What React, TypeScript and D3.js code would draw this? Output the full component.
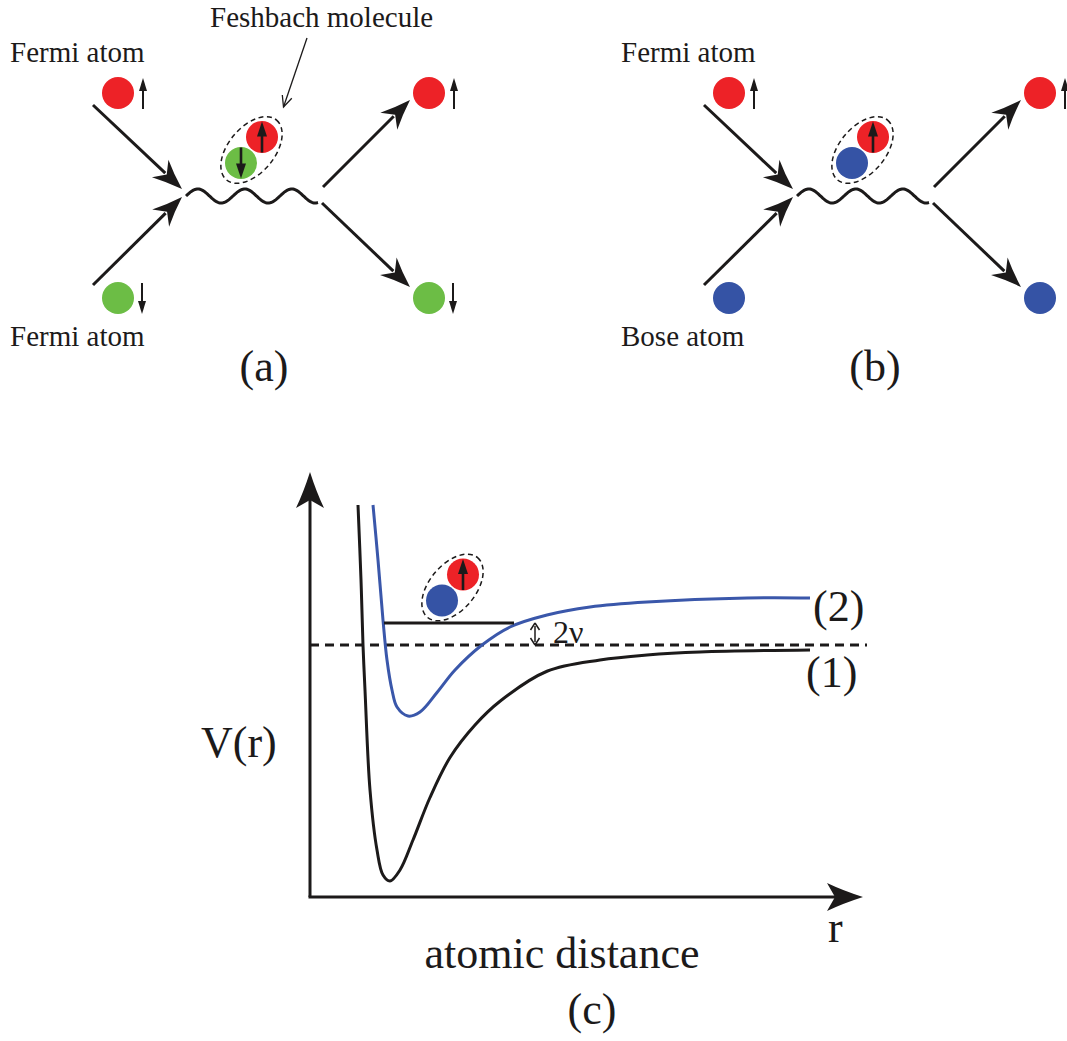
import React from 'react';
import * as d3 from 'd3';

const W = 1067;
const H = 1041;
const FONT = "Liberation Serif, DejaVu Serif, serif";
const BIG = 44;

const RED = '#ED2227';
const GREEN = '#6CBD45';
const BLUE = '#3553A5';
const INK = '#1c1a1a';
const CURVE2 = '#3A57AA';

// Panel (c): interatomic potentials, [r, V] in arbitrary units.
// V = 0 is the threshold of the open channel (dashed line).
const openChannel: [number, number][] = [
  [0.96, 5.6], [1.02, 2.6], [1.06, 0], [1.1, -1.8], [1.2, -5.8], [1.34, -8.2],
  [1.46, -9.2], [1.6, -9.44], [1.8, -9.0], [2.06, -7.8], [2.4, -6.1], [2.8, -4.5],
  [3.3, -3.2], [3.8, -2.25], [4.74, -1.05], [5.8, -0.6], [6.74, -0.4], [7.8, -0.28],
  [10.0, -0.2],
];
const closedChannel: [number, number][] = [
  [1.26, 5.6], [1.36, 3.4], [1.46, 1.0], [1.54, -0.6], [1.64, -1.8], [1.74, -2.48],
  [1.96, -2.84], [2.2, -2.68], [2.54, -1.9], [2.9, -1.0], [3.44, 0], [4.0, 0.72],
  [4.74, 1.2], [5.6, 1.52], [6.74, 1.72], [8.74, 1.88], [10.0, 1.88],
];
// Bound molecular state of the closed channel, detuned 2ν above threshold
const boundLevel = { v: 0.88, r0: 1.48, r1: 4.08 };
const thresholdV = 0;
const rDomain: [number, number] = [0, 11];
const vDomain: [number, number] = [-10, 7];

const channelLabels = ['(1)', '(2)'];
const panelTags = ['(a)', '(b)', '(c)'];

type Atom = { color: string; spin: number };

function headPath(len: number, half: number, notch: number) {
  return `M0,0 Q${-len * 0.55},${-half * 0.45} ${-len},${-half} L${-notch},0 L${-len},${half} Q${-len * 0.55},${half * 0.45} 0,0 Z`;
}

function Arrow({ x1, y1, x2, y2, w = 3, len = 30, half = 12, notch = 21 }: any) {
  const ang = Math.atan2(y2 - y1, x2 - x1);
  const ex = x2 - Math.cos(ang) * (notch + 2);
  const ey = y2 - Math.sin(ang) * (notch + 2);
  return (
    <g>
      <line x1={x1} y1={y1} x2={ex} y2={ey} stroke={INK} strokeWidth={w} />
      <path d={headPath(len, half, notch)} fill={INK}
        transform={`translate(${x2},${y2}) rotate(${(ang * 180) / Math.PI})`} />
    </g>
  );
}

// small vertical spin arrow; dir = 1 points up, -1 points down
function Spin({ x, yc, dir, len = 31, w = 2, head = 13, half = 4 }: any) {
  if (!dir) return null;
  const tip = yc - (dir * len) / 2;
  const tail = yc + (dir * len) / 2;
  const base = tip + dir * head;
  return (
    <g>
      <line x1={x} y1={tail} x2={x} y2={base + dir * -2} stroke={INK} strokeWidth={w} />
      <path d={`M${x},${tip} L${x - half},${base} L${x + half},${base} Z`} fill={INK} />
    </g>
  );
}

function Molecule({ cx, cy, top, bottom }: { cx: number; cy: number; top: Atom; bottom: Atom }) {
  const tx = cx + 10.5, ty = cy - 13;
  const bx = cx - 10.5, by = cy + 13;
  return (
    <g>
      <ellipse cx={cx} cy={cy} rx={39} ry={23} fill="none" stroke={INK}
        strokeWidth={1.5} strokeDasharray="5 3.5" transform={`rotate(-50 ${cx} ${cy})`} />
      <circle cx={bx} cy={by} r={16} fill={bottom.color} />
      <circle cx={tx} cy={ty} r={16} fill={top.color} />
      <Spin x={bx} yc={by} dir={bottom.spin} len={31} w={2.6} head={15} half={5} />
      <Spin x={tx} yc={ty} dir={top.spin} len={31} w={2.6} head={15} half={5} />
    </g>
  );
}

function Wave({ x0, x1, yc }: { x0: number; x1: number; yc: number }) {
  const pts = d3.range(x0, x1 + 0.5, 1).map((x) => [x, yc - 7 * Math.sin((2 * Math.PI * (x - x0)) / 47)] as [number, number]);
  return <path d={d3.line()(pts) || ''} fill="none" stroke={INK} strokeWidth={3} />;
}

function Scattering({ dx, top, bottom, topLabel, bottomLabel, tag, pointer }: any) {
  return (
    <g transform={`translate(${dx},0)`} fontFamily={FONT} fill={INK}>
      <text x={10} y={62} fontSize={29}>{topLabel}</text>
      <text x={10} y={346} fontSize={29}>{bottomLabel}</text>

      <circle cx={118} cy={93} r={16} fill={top.color} />
      <Spin x={143} yc={93.5} dir={top.spin} />
      <circle cx={118} cy={298} r={16} fill={bottom.color} />
      <Spin x={142} yc={298.5} dir={bottom.spin} />

      <Arrow x1={93} y1={105} x2={182} y2={189} />
      <Arrow x1={93} y1={285} x2={182} y2={197} />
      <Wave x0={186} x1={318} yc={196} />
      <Arrow x1={323} y1={187} x2={410} y2={100} />
      <Arrow x1={322} y1={203} x2={410} y2={287} />

      <circle cx={429} cy={93} r={16} fill={top.color} />
      <Spin x={454} yc={93.5} dir={top.spin} />
      <circle cx={429} cy={298} r={16} fill={bottom.color} />
      <Spin x={453} yc={298.5} dir={bottom.spin} />

      <Molecule cx={251.5} cy={150} top={top} bottom={bottom} />

      {pointer && (
        <g>
          <text x={210} y={27} fontSize={29}>{pointer}</text>
          <line x1={307} y1={38} x2={283.5} y2={107} stroke={INK} strokeWidth={1.3} />
          <path d="M-11,-5 L0,0 L-11,5" fill="none" stroke={INK} strokeWidth={1.3}
            transform={`translate(283.5,107) rotate(${(Math.atan2(107 - 38, 283.5 - 307) * 180) / Math.PI})`} />
        </g>
      )}

      <text x={264} y={381} fontSize={BIG} textAnchor="middle">{tag}</text>
    </g>
  );
}

function PotentialPanel() {
  const x = d3.scaleLinear().domain(rDomain).range([310, 860]);
  const y = d3.scaleLinear().domain(vDomain).range([895, 470]);
  const line = d3.line<[number, number]>().x((d) => x(d[0])).y((d) => y(d[1])).curve(d3.curveCatmullRom.alpha(0.5));
  const y0 = y(thresholdV);
  const yb = y(boundLevel.v);
  const axisX = 310, axisY = 897;
  const lastOpen = openChannel[openChannel.length - 1];
  const lastClosed = closedChannel[closedChannel.length - 1];
  const arrX = 535;
  return (
    <g fontFamily={FONT} fill={INK}>
      {/* axes */}
      <line x1={axisX} y1={axisY} x2={axisX} y2={500} stroke={INK} strokeWidth={3} />
      <path d={headPath(36, 14, 28)} fill={INK} transform={`translate(${axisX},472) rotate(-90)`} />
      <line x1={axisX - 1.5} y1={axisY} x2={836} y2={axisY} stroke={INK} strokeWidth={3} />
      <path d={headPath(36, 14, 28)} fill={INK} transform={`translate(863,${axisY})`} />

      {/* threshold */}
      <line x1={axisX} y1={y0} x2={867} y2={y0} stroke={INK} strokeWidth={3} strokeDasharray="9 6" />

      <path d={line(openChannel) || ''} fill="none" stroke={INK} strokeWidth={3} />
      <path d={line(closedChannel) || ''} fill="none" stroke={CURVE2} strokeWidth={3} />

      {/* bound state */}
      <line x1={x(boundLevel.r0)} y1={yb} x2={x(boundLevel.r1)} y2={yb} stroke={INK} strokeWidth={3} />
      <Molecule cx={452.5} cy={587.5} top={{ color: RED, spin: 1 }} bottom={{ color: BLUE, spin: 0 }} />

      {/* detuning */}
      <line x1={arrX} y1={yb + 3} x2={arrX} y2={y0 - 3} stroke={INK} strokeWidth={1.5} />
      <path d={`M${arrX},${yb} L${arrX - 4.5},${yb + 7} M${arrX},${yb} L${arrX + 4.5},${yb + 7}`} stroke={INK} strokeWidth={1.5} fill="none" />
      <path d={`M${arrX},${y0} L${arrX - 4.5},${y0 - 7} M${arrX},${y0} L${arrX + 4.5},${y0 - 7}`} stroke={INK} strokeWidth={1.5} fill="none" />
      <text x={553} y={643} fontSize={32}>2ν</text>

      <text x={x(lastClosed[0]) + 3} y={y(lastClosed[1]) + 23} fontSize={BIG}>{channelLabels[1]}</text>
      <text x={x(lastOpen[0]) - 4} y={y(lastOpen[1]) + 37} fontSize={BIG}>{channelLabels[0]}</text>

      <text x={201} y={757} fontSize={BIG}>V(r)</text>
      <text x={828} y={942} fontSize={BIG}>r</text>
      <text x={562} y={968} fontSize={BIG} textAnchor="middle">atomic distance</text>
      <text x={592} y={1024} fontSize={BIG} textAnchor="middle">{panelTags[2]}</text>
    </g>
  );
}

export default function App() {
  return (
    <svg width={W} height={H} viewBox={`0 0 ${W} ${H}`}
      style={{ position: 'absolute', left: 0, top: 0, display: 'block', background: '#fff' }}>
      <rect width={W} height={H} fill="#fff" />
      <Scattering dx={0} top={{ color: RED, spin: 1 }} bottom={{ color: GREEN, spin: -1 }}
        topLabel="Fermi atom" bottomLabel="Fermi atom" tag={panelTags[0]} pointer="Feshbach molecule" />
      <Scattering dx={611} top={{ color: RED, spin: 1 }} bottom={{ color: BLUE, spin: 0 }}
        topLabel="Fermi atom" bottomLabel="Bose atom" tag={panelTags[1]} />
      <PotentialPanel />
    </svg>
  );
}
